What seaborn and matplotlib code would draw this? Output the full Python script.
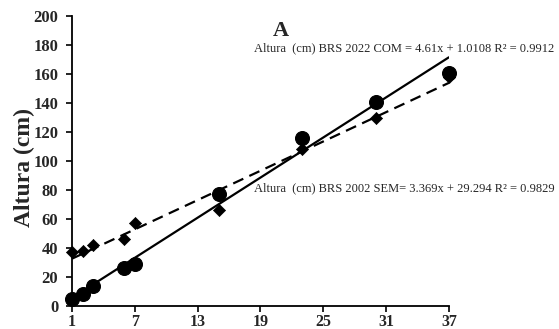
import numpy as np
import pandas as pd
import seaborn as sns
import matplotlib.pyplot as plt

# days after emergence and plant height (cm)
dias = [1, 2, 3, 6, 7, 15, 23, 30, 37]
altura_com = [5, 8, 14, 26, 29, 77, 116, 141, 161]
altura_sem = [37, 38, 42, 46, 57, 66, 108, 130, 158]

# trend lines as printed on the chart
coef_com = [4.61, 1.0108]
coef_sem = [3.369, 29.294]
x_ticks = [1, 7, 13, 19, 25, 31, 37]
y_ticks = [0, 20, 40, 60, 80, 100, 120, 140, 160, 180, 200]

label_com = "Altura  (cm) BRS 2022 COM = 4.61x + 1.0108 R² = 0.9912"
label_sem = "Altura  (cm) BRS 2002 SEM= 3.369x + 29.294 R² = 0.9829"

df = pd.DataFrame({"dias": dias, "com": altura_com, "sem": altura_sem})
x_fit = np.array([dias[0], dias[-1]])
trend = pd.DataFrame({
    "dias": x_fit,
    "com": coef_com[0] * x_fit + coef_com[1],
    "sem": coef_sem[0] * x_fit + coef_sem[1],
})

sns.set_theme(style="ticks")
plt.rcParams['font.family'] = ['Liberation Serif', 'DejaVu Serif']

fig = plt.figure(figsize=(5.59, 3.29), dpi=100)
ax = fig.add_axes([0.129, 0.07, 0.674, 0.881])

sns.lineplot(data=trend, x="dias", y="com", color="black", linewidth=1.6, ax=ax)
sns.lineplot(data=trend, x="dias", y="sem", color="black", linewidth=1.6,
             linestyle=(0, (5, 3)), ax=ax)
sns.scatterplot(data=df, x="dias", y="com", color="black", marker="o",
                s=100, edgecolor="black", zorder=5, ax=ax)
sns.scatterplot(data=df, x="dias", y="sem", color="black", marker="D",
                s=38, edgecolor="black", zorder=4, ax=ax)

ax.set_xlim(1, 37)
ax.set_ylim(0, 200)
ax.set_xticks(x_ticks)
ax.set_yticks(y_ticks)
ax.set_xlabel("")
ax.set_ylabel("Altura (cm)", fontsize=17, fontweight="bold")
ax.yaxis.set_label_coords(-0.098, 0.478)
ax.tick_params(axis="both", width=1.2, length=4, color="black")
ax.tick_params(axis="y", labelsize=12, pad=6)
ax.tick_params(axis="x", labelsize=11.5, pad=1.5)
for lab in ax.get_xticklabels() + ax.get_yticklabels():
    lab.set_fontweight("bold")
for side in ["left", "bottom"]:
    ax.spines[side].set_linewidth(1.3)
    ax.spines[side].set_color("black")
sns.despine(ax=ax)
for coll in ax.collections:
    coll.set_clip_on(False)

fig.text(0.503, 0.905, "A", fontsize=16, fontweight="bold", ha="center", va="center")
fig.text(0.723, 0.853, label_com, fontsize=9, ha="center", va="center")
fig.text(0.723, 0.428, label_sem, fontsize=9, ha="center", va="center")

fig.savefig("out.png", dpi=100)
